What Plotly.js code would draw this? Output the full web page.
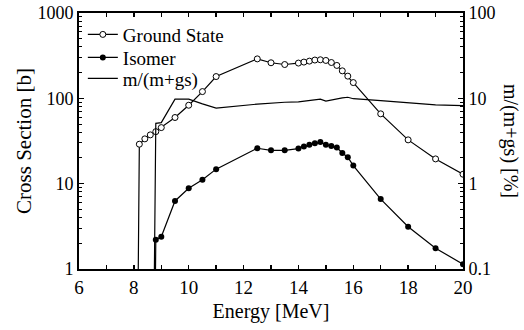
<!DOCTYPE html>
<html>
<head>
<meta charset="utf-8">
<script src="https://cdn.plot.ly/plotly-3.0.1.min.js"></script>
<style>html,body{margin:0;padding:0;background:#fff;}#chart{width:524px;height:330px;}</style>
</head>
<body>
<div id="chart"></div>
<script>
// Energies [MeV] (first entries carry zero / below-axis values)
const energy = [8.0, 8.2, 8.4, 8.6, 8.8, 9.0, 9.5, 10, 10.5, 11, 12.5, 13, 13.5, 14, 14.2, 14.4, 14.6, 14.8, 15.0, 15.2, 15.4, 15.6, 15.8, 16, 17, 18, 19, 20];
// Cross sections [b]
const groundState = [1e-6, 29, 33.5, 37.3, 40.7, 45.4, 59.6, 83, 120, 180, 290, 261, 249, 259, 266, 273, 281, 283, 278, 263, 243, 210, 182, 153, 65.8, 32.6, 19.5, 12.9];
const isomer = [1e-6, 1e-6, 1e-6, 1e-6, 2.2, 2.39, 6.27, 8.83, 11.1, 14.8, 26.0, 24.6, 24.6, 25.8, 27.2, 28.5, 29.8, 30.8, 28.5, 27.7, 26.5, 22.9, 20.4, 16.3, 6.6, 3.13, 1.75, 1.14];
// Isomeric ratio m/(m+gs) [%]
const ratio = [1e-6, 1e-6, 1e-6, 1e-6, 5.1, 5.2, 9.8, 9.8, 8.6, 7.7, 8.55, 8.8, 9.0, 9.1, 9.3, 9.4, 9.6, 9.8, 9.3, 9.6, 9.9, 10.1, 10.3, 9.9, 9.4, 8.8, 8.4, 8.2];

const seriesNames = ["Ground State", "Isomer", "m/(m+gs)"];
const xTickVals = [6, 8, 10, 12, 14, 16, 18, 20];
const yLeftTicks = [1, 10, 100, 1000];
const yLeftLabels = ["1", "10", "100", "1000"];
const yRightTicks = [0.1, 1, 10, 100];
const yRightLabels = ["0.1", "1", "10", "100"];

const FONT = "Liberation Serif";

const traces = [
  {
    x: energy, y: groundState, name: seriesNames[0], type: "scatter", mode: "lines+markers",
    line: {color: "#000", width: 1.2},
    marker: {symbol: "circle", size: 6, color: "#fff", line: {color: "#000", width: 1}},
    xaxis: "x", yaxis: "y", legend: "legend"
  },
  {
    x: energy, y: isomer, name: seriesNames[1], type: "scatter", mode: "lines+markers",
    line: {color: "#000", width: 1.2},
    marker: {symbol: "circle", size: 6, color: "#000"},
    xaxis: "x", yaxis: "y", legend: "legend2"
  },
  {
    x: energy, y: ratio, name: seriesNames[2], type: "scatter", mode: "lines",
    line: {color: "#000", width: 1.2},
    xaxis: "x", yaxis: "y2", legend: "legend3"
  }
];

function legendAt(yPaper) {
  return {
    x: 0.01, y: yPaper, xanchor: "left", yanchor: "top",
    bgcolor: "rgba(0,0,0,0)", borderwidth: 0,
    font: {family: FONT, size: 19, color: "#000"},
    itemwidth: 30
  };
}

const layout = {
  width: 524, height: 330,
  margin: {l: 79, r: 61, t: 13, b: 61, pad: 0},
  paper_bgcolor: "#fff", plot_bgcolor: "#fff",
  font: {family: FONT, size: 18, color: "#000"},
  showlegend: true,
  legend: legendAt(0.99),
  legend2: legendAt(0.90),
  legend3: legendAt(0.818),
  xaxis: {
    range: [6, 20], tickvals: xTickVals, ticktext: xTickVals.map(String),
    ticks: "inside", ticklen: 4, tickwidth: 1.5, tickcolor: "#000",
    minor: {dtick: 1, ticks: "inside", ticklen: 4, tickwidth: 1.5, tickcolor: "#000"},
    showline: true, linewidth: 2, linecolor: "#000", mirror: "ticks",
    showgrid: false, zeroline: false,
    tickfont: {family: FONT, size: 19, color: "#000"},
    title: {text: "Energy [MeV]", font: {family: FONT, size: 20, color: "#000"}, standoff: 7}
  },
  yaxis: {
    type: "log", range: [0, 3],
    tickvals: yLeftTicks, ticktext: yLeftLabels,
    ticks: "inside", ticklen: 5, tickwidth: 1.5, tickcolor: "#000",
    minor: {dtick: "D1", ticks: "inside", ticklen: 3, tickwidth: 1, tickcolor: "#000"},
    showline: true, linewidth: 2, linecolor: "#000",
    showgrid: false, zeroline: false,
    tickfont: {family: FONT, size: 18, color: "#000"},
    title: {text: "Cross Section [b]", font: {family: FONT, size: 21, color: "#000"}, standoff: 0}
  },
  yaxis2: {
    type: "log", range: [-1, 2], overlaying: "y", side: "right",
    tickvals: yRightTicks, ticktext: yRightLabels,
    ticks: "inside", ticklen: 5, tickwidth: 1.5, tickcolor: "#000",
    minor: {dtick: "D1", ticks: "inside", ticklen: 3, tickwidth: 1, tickcolor: "#000"},
    showline: true, linewidth: 2, linecolor: "#000",
    showgrid: false, zeroline: false,
    tickfont: {family: FONT, size: 18, color: "#000"}
  },
  annotations: [{
    text: "m/(m+gs) [%]", xref: "paper", yref: "paper", x: 1.125, y: 0.5,
    xanchor: "center", yanchor: "middle", showarrow: false, textangle: 90,
    font: {family: FONT, size: 20, color: "#000"}
  }]
};

Plotly.newPlot("chart", traces, layout, {staticPlot: true, displayModeBar: false});
</script>
</body>
</html>
